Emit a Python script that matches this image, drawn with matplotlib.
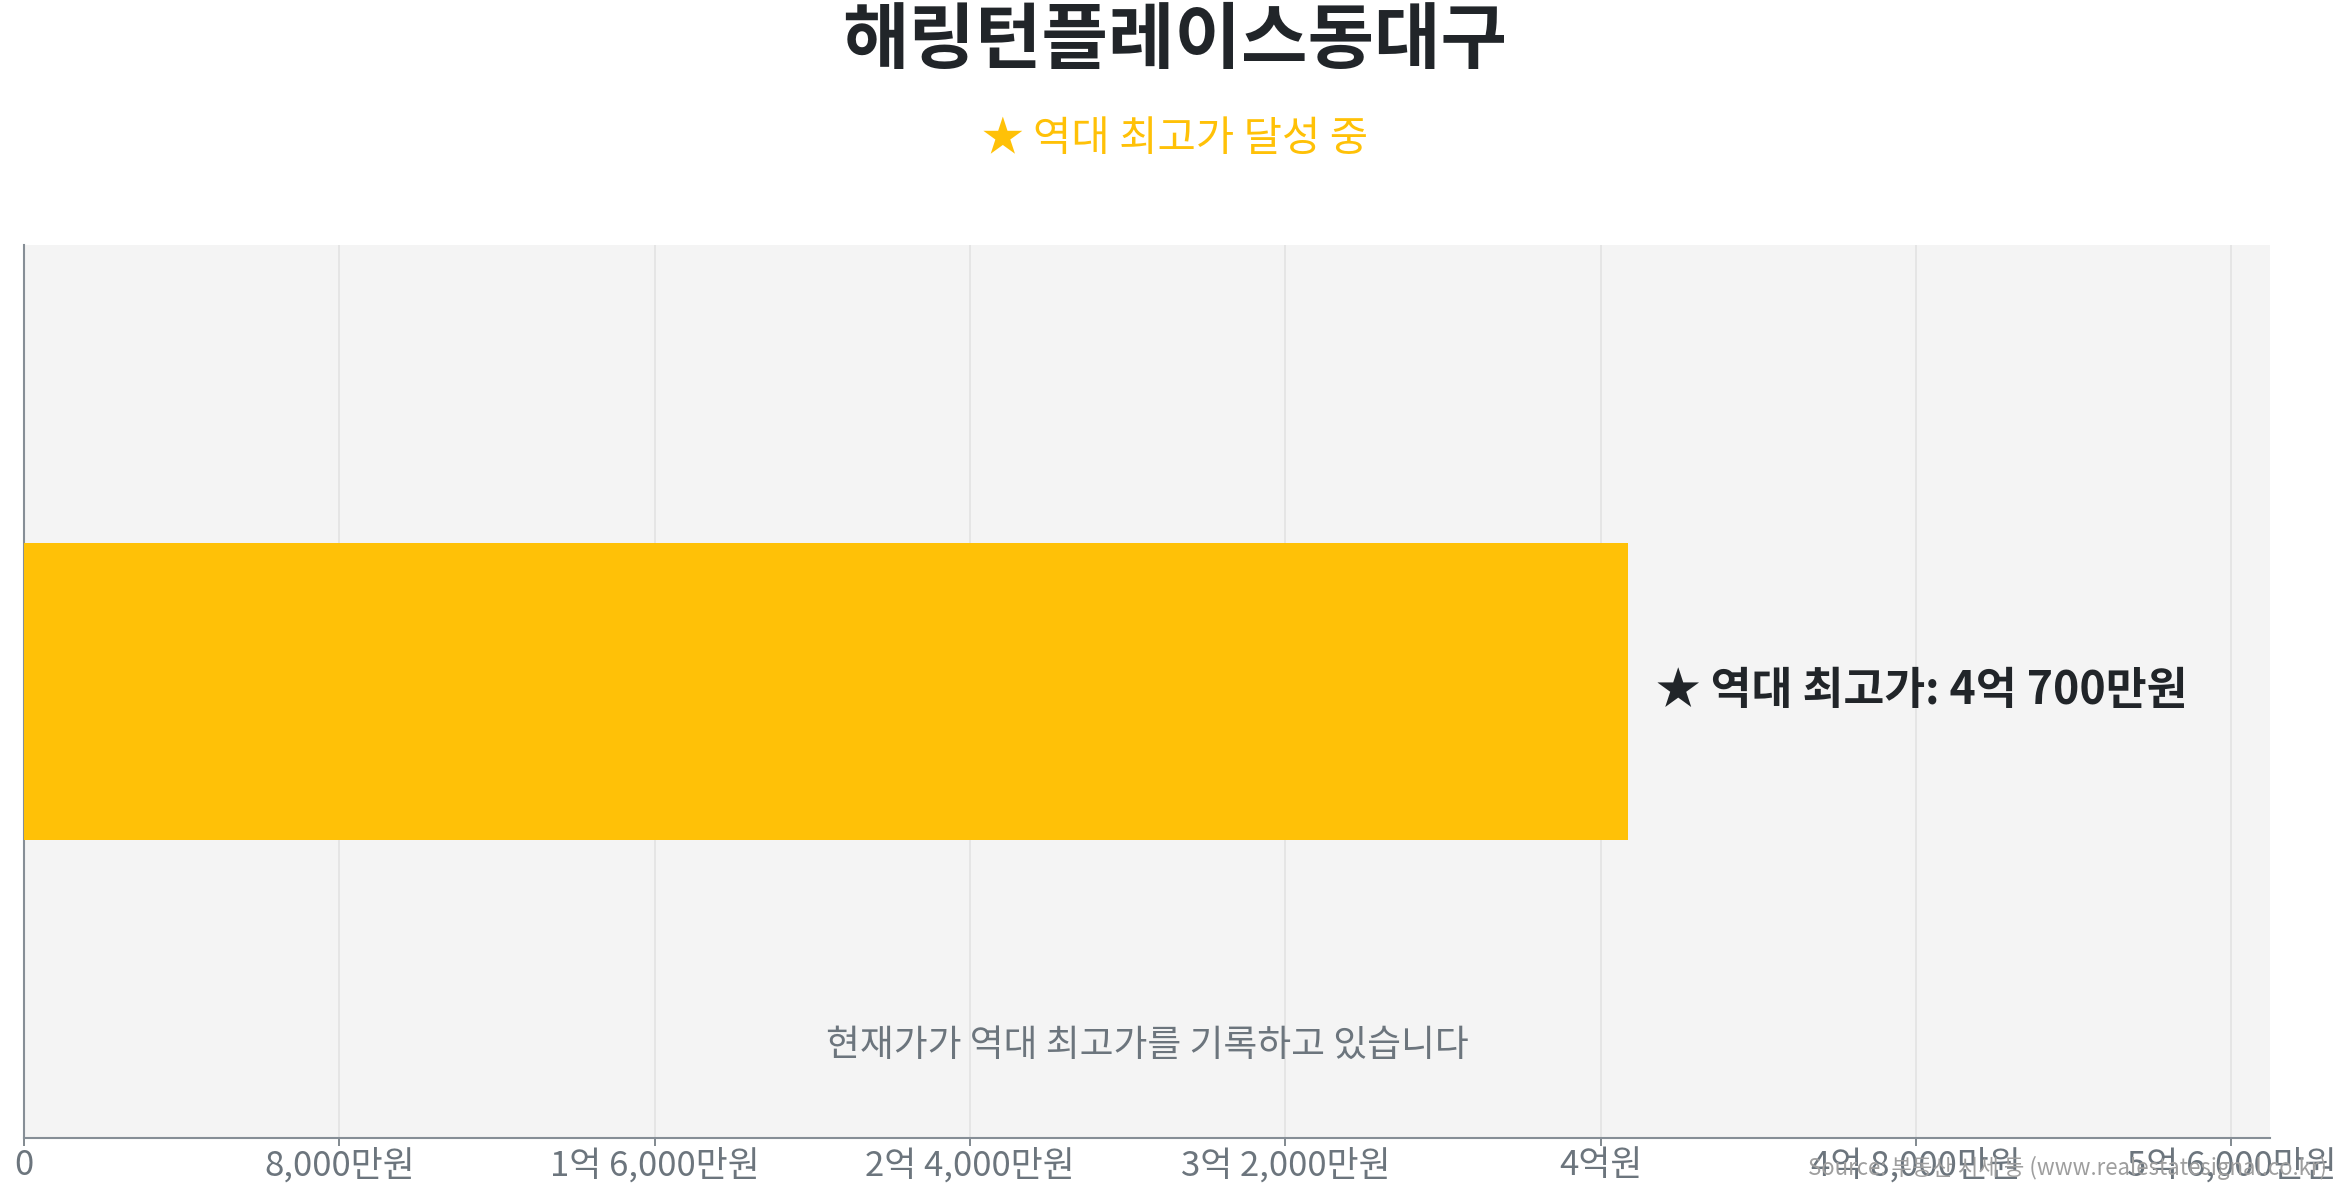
import matplotlib
matplotlib.use("Agg")
from matplotlib import pyplot as plt
from matplotlib.ticker import MultipleLocator, FuncFormatter

plt.rcParams['font.family'] = ['Noto Sans CJK KR', 'DejaVu Sans']

# data (prices in 만원)
complex_name = "해링턴플레이스동대구"
categories = ["역대 최고가"]
max_prices = [40700]
subtitle = "★ 역대 최고가 달성 중"
note = "현재가가 역대 최고가를 기록하고 있습니다"
source = "Source: 부동산 시세 등 (www.realestatesignal.co.kr)"

BAR_COLOR = "#FFC107"
DARK = "#212529"
GRAY = "#6C757D"


def fmt_price(v, pos=None):
	v = int(round(v))
	if v == 0:
		return "0"
	eok, man = divmod(v, 10000)
	if eok and man:
		return f"{eok}억 {man:,}만원"
	if eok:
		return f"{eok}억원"
	return f"{man:,}만원"


fig = plt.figure(figsize=(23.5, 12), dpi=100)
ax = fig.add_axes([0.0102, 0.0517, 0.9558, 0.7443])
ax.set_facecolor("#F4F4F4")

ax.barh(range(len(categories)), max_prices, height=1.0, color=BAR_COLOR, zorder=3)
ax.set_ylim(-1.5, 1.5)
ax.set_xlim(0, max(max_prices) * 1.4)

for i, v in enumerate(max_prices):
	ax.text(v + max(max_prices) * 0.017, i, f"★ {categories[i]}: {fmt_price(v)}",
			va="center", ha="left", fontsize=32, fontweight="bold", color=DARK, zorder=4)

ax.text(0.5, 0.104, note, transform=ax.transAxes, ha="center", va="center",
		fontsize=26.5, color=GRAY)

ax.xaxis.set_major_locator(MultipleLocator(8000))
ax.xaxis.set_major_formatter(FuncFormatter(fmt_price))
ax.set_yticks([])
ax.set_axisbelow(True)
ax.grid(True, axis="x", color="#E2E2E2", linewidth=1.2)
ax.tick_params(axis="x", labelsize=25, colors=GRAY, length=6, width=1.2, pad=1)

for side in ["top", "right"]:
	ax.spines[side].set_visible(False)
for side in ["left", "bottom"]:
	ax.spines[side].set_color("#868E96")
	ax.spines[side].set_linewidth(1.5)

fig.text(0.5, 0.965, complex_name, ha="center", va="center", fontsize=52,
		 fontweight="bold", color=DARK)
fig.text(0.5, 0.884, subtitle, ha="center", va="center", fontsize=30, color=BAR_COLOR)
fig.text(0.99, 0.027, source, ha="right", va="center", fontsize=16, color="#9E9E9E")

fig.savefig("out.png", dpi=100)
